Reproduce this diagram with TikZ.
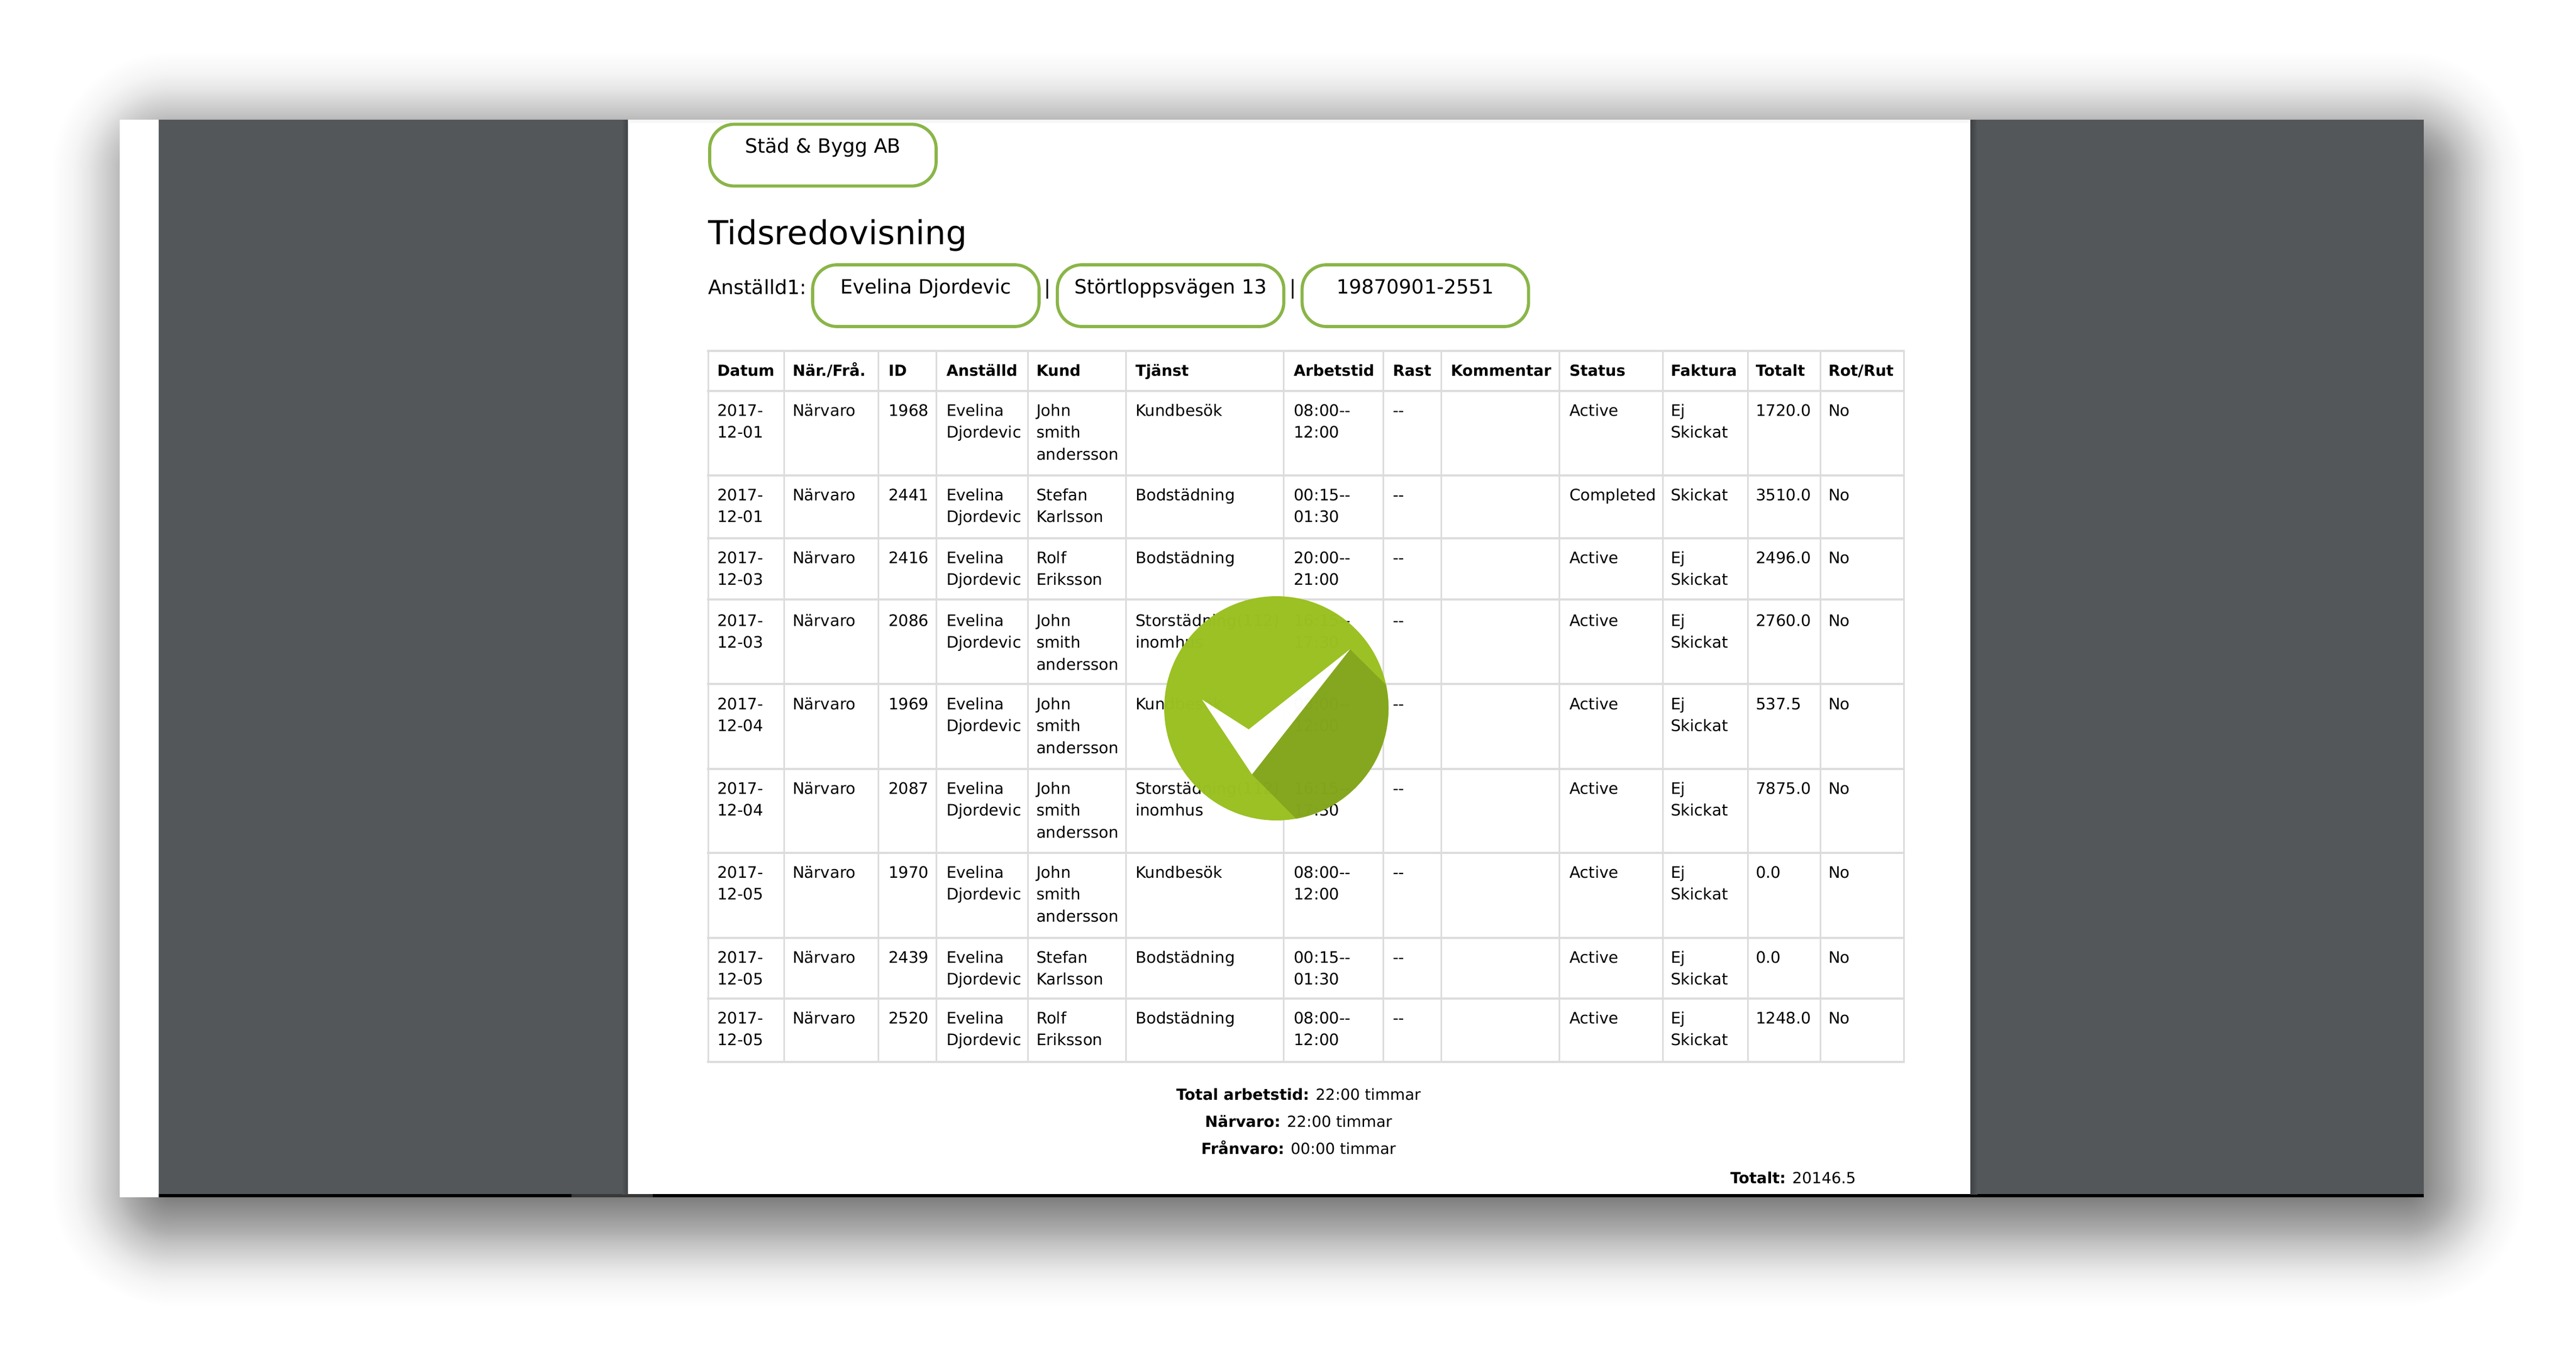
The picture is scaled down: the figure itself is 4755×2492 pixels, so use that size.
\documentclass[tikz,border=0pt]{standalone}
\usepackage{fontspec}
\usepackage{array}
\setmainfont{DejaVu Sans}
\usetikzlibrary{positioning}
\definecolor{panelgray}{HTML}{53575A}
\definecolor{paneldark}{HTML}{3E4245}
\definecolor{pillgreen}{HTML}{8AB548}
\definecolor{rulegray}{HTML}{DCDCDC}
\definecolor{checklight}{HTML}{9AC121}
\definecolor{checkdark}{HTML}{84A61C}
\tikzstyle{pill} = [draw=pillgreen,line width=1.15pt,rectangle,rounded corners=9pt,inner sep=0,minimum width=83.6pt,minimum height=22.8pt]
\tikzstyle{pilltext} = [inner sep=0,anchor=base,font=\fontsize{7.25pt}{9pt}\selectfont]
\tikzstyle{cell} = [inner sep=0,anchor=base west,font=\fontsize{5.85pt}{8.1pt}\selectfont]
\tikzstyle{headcell} = [inner sep=0,anchor=base west,font=\fontsize{5.65pt}{8pt}\selectfont\bfseries]
\tikzstyle{foot} = [inner sep=0,anchor=base,font=\fontsize{5.67pt}{8pt}\selectfont]
\tikzstyle{hrule} = [draw=rulegray,line width=0.75pt]
\tikzstyle{vrule} = [draw=rulegray,line width=0.6pt]
\def \dd {-{}-}
\def \lines #1{\begin{tabular}[t]{@{}l@{}}#1\end{tabular}}

\begin{document}
\begin{tikzpicture}[x=0.2pt,y=-0.2pt]
  \useasboundingbox (0,0) rectangle (4755,2492);
  % soft shadow
  \foreach \d in {220,216,...,-48} {
    \pgfmathsetmacro\op{exp(-0.5*(\d/75)*(\d/75))*4/(75*2.5066)}
    \pgfmathsetmacro\rad{max(60+\d,20)*0.2}
    \fill[black,opacity=\op,rounded corners=\rad pt] (257-\d,257-\d) rectangle (4500+\d,2250+\d);
  }
  % window
  \fill[white] (221,221) rectangle (4474,2211);
  \fill[black] (293,2205) rectangle (4474,2211);
  \fill[black!78] (1055,2205) rectangle (1205,2211);
  \fill[panelgray] (293,221) rectangle (1159,2205);
  \fill[panelgray] (3637,221) rectangle (4474,2205);
  \shade[left color=panelgray,right color=paneldark] (1148,221) rectangle (1159,2205);
  \shade[left color=paneldark,right color=panelgray] (3637,221) rectangle (3650,2205);
  \fill[black!3] (1159,221) rectangle (3637,227);

  % heading
  \node[pill] (firma) at (1519,286.5) {};
  \node[pilltext] (firmatext) at ([yshift=-11.2pt]firma.north) {Städ \& Bygg AB};
  \node[inner sep=0,anchor=base west,font=\fontsize{12.2pt}{15pt}\selectfont] (title) at (1306,451) {Tidsredovisning};
  \node[pilltext,anchor=base west] (anst) at (1306,543) {Anställd1:};
  \node[pill] (namn) at (1709,546) {};
  \node[pill,right=5.6pt of namn] (adress) {};
  \node[pill,right=5.6pt of adress] (pnr) {};
  \node[pilltext] (namntext) at ([yshift=-11.2pt]namn.north) {Evelina Djordevic};
  \node[pilltext] (adresstext) at ([yshift=-11.2pt]adress.north) {Störtloppsvägen 13};
  \node[pilltext] (pnrtext) at ([yshift=-11.2pt]pnr.north) {19870901-2551};
  \node[pilltext] (sepa) at (1934,543) {|};
  \node[pilltext] (sepb) at (2387,543) {|};

  % table rules
  \foreach \y in {648,722,878,994,1107,1263,1420,1575,1732,1844,1961} {
    \draw[hrule] (1305,\y) -- (3516,\y);
  }
  \foreach \x in {1307,1447,1621,1728,1897,2078,2369,2553,2660,2878,3069,3226,3360,3514} {
    \draw[vrule] (\x,648) -- (\x,1961);
  }

  % table head
  \foreach \x/\t in {1323/Datum,1462/När.{/}Frå.,1639/ID,1746/Anställd,1912/Kund,2095/Tjänst,2387/Arbetstid,2570/Rast,2677/Kommentar,2896/Status,3083/Faktura,3240/Totalt,3374/Rot{/}Rut} {
    \node[headcell] (head-\x) at (\x,694) {\t};
  }

  % table rows
  \foreach \y/\dat/\id/\kund/\tj/\tid/\stat/\fak/\tot in {
    768/12-01/1968/John\\smith\\andersson/Kundbesök/08:00\dd\\12:00/Active/Ej\\Skickat/1720.0,
    924/12-01/2441/Stefan\\Karlsson/Bodstädning/00:15\dd\\01:30/Completed/Skickat/3510.0,
    1040/12-03/2416/Rolf\\Eriksson/Bodstädning/20:00\dd\\21:00/Active/Ej\\Skickat/2496.0,
    1156/12-03/2086/John\\smith\\andersson/Storstädning(112)\\inomhus/16:15\dd\\17:30/Active/Ej\\Skickat/2760.0,
    1310/12-04/1969/John\\smith\\andersson/Kundbesök/08:00\dd\\12:00/Active/Ej\\Skickat/537.5,
    1466/12-04/2087/John\\smith\\andersson/Storstädning(112)\\inomhus/16:15\dd\\17:30/Active/Ej\\Skickat/7875.0,
    1621/12-05/1970/John\\smith\\andersson/Kundbesök/08:00\dd\\12:00/Active/Ej\\Skickat/0.0,
    1778/12-05/2439/Stefan\\Karlsson/Bodstädning/00:15\dd\\01:30/Active/Ej\\Skickat/0.0,
    1890/12-05/2520/Rolf\\Eriksson/Bodstädning/08:00\dd\\12:00/Active/Ej\\Skickat/1248.0} {
    \node[cell] (dat-\y) at (1323,\y) {\lines{2017-\\\dat}};
    \node[cell] (nar-\y) at (1462,\y) {Närvaro};
    \node[cell] (id-\y) at (1639,\y) {\id};
    \node[cell] (anst-\y) at (1746,\y) {\lines{Evelina\\Djordevic}};
    \node[cell] (kund-\y) at (1912,\y) {\lines{\kund}};
    \node[cell] (tj-\y) at (2095,\y) {\lines{\tj}};
    \node[cell] (tid-\y) at (2387,\y) {\lines{\tid}};
    \node[cell] (rast-\y) at (2570,\y) {\dd};
    \node[cell] (stat-\y) at (2896,\y) {\stat};
    \node[cell] (fak-\y) at (3083,\y) {\lines{\fak}};
    \node[cell] (tot-\y) at (3240,\y) {\tot};
    \node[cell] (rot-\y) at (3374,\y) {No};
  }

  % summary
  \node[foot] (sumtid) at (2397,2031) {\textbf{Total arbetstid:} 22:00 timmar};
  \node[foot] (sumnar) at (2397,2081) {\textbf{Närvaro:} 22:00 timmar};
  \node[foot] (sumfran) at (2397,2131) {\textbf{Frånvaro:} 00:00 timmar};
  \node[foot,anchor=base west] (sumtot) at (3193,2185) {\textbf{Totalt:} 20146.5};

  % check badge
  \begin{scope}[transparency group,opacity=0.985]
    \fill[checklight] (2356,1308) circle (207);
    \begin{scope}
      \clip (2356,1308) circle (207);
      \fill[checkdark] (2492,1199) -- (2600,1306) -- (2600,1620) -- (2500,1620) -- (2311,1430) -- cycle;
    \end{scope}
    \fill[white] (2219,1292) -- (2305,1347) -- (2492,1199) -- (2311,1430) -- cycle;
  \end{scope}
\end{tikzpicture}
\end{document}
